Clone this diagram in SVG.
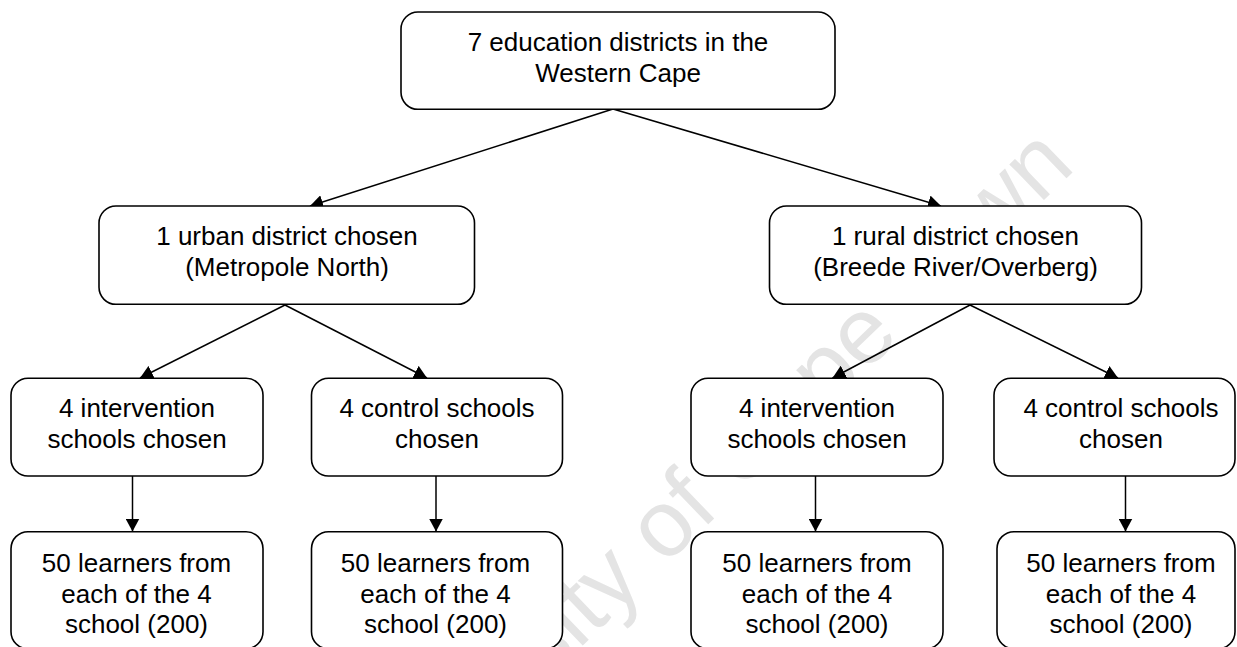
<svg xmlns="http://www.w3.org/2000/svg" width="1237" height="647" viewBox="0 0 1237 647">
<style>
.box{fill:#fff;stroke:#000;stroke-width:1.6}
.t{font-family:"Liberation Sans",Arial,sans-serif;font-size:26px;fill:#000;text-anchor:middle}
.c{fill:none;stroke:#000;stroke-width:1.5}
.wm{font-family:"Liberation Sans",Arial,sans-serif;font-size:94px;fill:#e4e4e4}
</style>
<defs>
<marker id="ah" markerUnits="userSpaceOnUse" markerWidth="14" markerHeight="14" refX="13" refY="7" orient="auto">
<path d="M0,0 L13,7 L0,14 z" fill="#000"/>
</marker>
</defs>
<rect width="1237" height="647" fill="#fff"/>
<text class="wm" transform="translate(349,871) rotate(-44)">University of Cape Town</text>
<g id="connectors">
<line class="c" x1="613" y1="109" x2="310" y2="206" marker-end="url(#ah)"/>
<line class="c" x1="613" y1="109" x2="941" y2="206" marker-end="url(#ah)"/>
<line class="c" x1="285" y1="305" x2="140" y2="378" marker-end="url(#ah)"/>
<line class="c" x1="285" y1="305" x2="427" y2="378" marker-end="url(#ah)"/>
<line class="c" x1="970" y1="305" x2="832.5" y2="378" marker-end="url(#ah)"/>
<line class="c" x1="970" y1="305" x2="1118" y2="378" marker-end="url(#ah)"/>
<line class="c" x1="132.5" y1="476" x2="132.5" y2="531.5" marker-end="url(#ah)"/>
<line class="c" x1="436" y1="476" x2="436" y2="531.5" marker-end="url(#ah)"/>
<line class="c" x1="815.5" y1="476" x2="815.5" y2="531.5" marker-end="url(#ah)"/>
<line class="c" x1="1125.5" y1="476" x2="1125.5" y2="531.5" marker-end="url(#ah)"/>
</g>
<g id="top">
<rect class="box" x="401" y="12" width="434" height="97.3" rx="17"/>
<text class="t" x="618" y="50.5">7 education districts in the</text>
<text class="t" x="618" y="81.5">Western Cape</text>
</g>
<g id="urban">
<rect class="box" x="99" y="206" width="375.5" height="98.3" rx="17"/>
<text class="t" x="287" y="245">1 urban district chosen</text>
<text class="t" x="287" y="275.5">(Metropole North)</text>
</g>
<g id="rural">
<rect class="box" x="769.5" y="206" width="372" height="98.3" rx="17"/>
<text class="t" x="955.5" y="245">1 rural district chosen</text>
<text class="t" x="955.5" y="275.5">(Breede River/Overberg)</text>
</g>
<g id="urban-int">
<rect class="box" x="11" y="378.3" width="252" height="97.7" rx="17"/>
<text class="t" x="137" y="416.5">4 intervention</text>
<text class="t" x="137" y="447.5">schools chosen</text>
</g>
<g id="urban-ctl">
<rect class="box" x="311.5" y="378.3" width="251" height="97.7" rx="17"/>
<text class="t" x="437" y="416.5">4 control schools</text>
<text class="t" x="437" y="447.5">chosen</text>
</g>
<g id="rural-int">
<rect class="box" x="691" y="378.3" width="252" height="97.7" rx="17"/>
<text class="t" x="817" y="416.5">4 intervention</text>
<text class="t" x="817" y="447.5">schools chosen</text>
</g>
<g id="rural-ctl">
<rect class="box" x="994" y="378.3" width="241" height="97.7" rx="17"/>
<text class="t" x="1121" y="416.5">4 control schools</text>
<text class="t" x="1121" y="447.5">chosen</text>
</g>
<g id="urban-int-learners">
<rect class="box" x="11" y="531.7" width="252" height="117" rx="17"/>
<text class="t" x="136.5" y="571.5">50 learners from</text>
<text class="t" x="136.5" y="602.5">each of the 4</text>
<text class="t" x="136.5" y="632.5">school (200)</text>
</g>
<g id="urban-ctl-learners">
<rect class="box" x="311.5" y="531.7" width="251" height="117" rx="17"/>
<text class="t" x="435.5" y="571.5">50 learners from</text>
<text class="t" x="435.5" y="602.5">each of the 4</text>
<text class="t" x="435.5" y="632.5">school (200)</text>
</g>
<g id="rural-int-learners">
<rect class="box" x="691" y="531.7" width="252" height="117" rx="17"/>
<text class="t" x="817" y="571.5">50 learners from</text>
<text class="t" x="817" y="602.5">each of the 4</text>
<text class="t" x="817" y="632.5">school (200)</text>
</g>
<g id="rural-ctl-learners">
<rect class="box" x="997" y="531.7" width="238" height="117" rx="17"/>
<text class="t" x="1121" y="571.5">50 learners from</text>
<text class="t" x="1121" y="602.5">each of the 4</text>
<text class="t" x="1121" y="632.5">school (200)</text>
</g>
</svg>
